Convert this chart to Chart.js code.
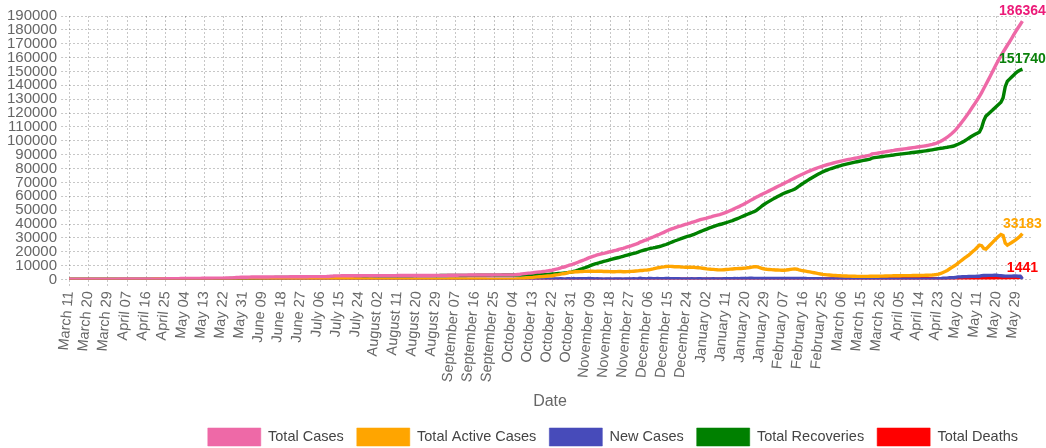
<!DOCTYPE html>
<html>
<head>
<meta charset="utf-8">
<title>COVID-19 cases</title>
<script src="https://cdn.jsdelivr.net/npm/chart.js@4.4.0/dist/chart.umd.min.js"></script>
<style>
  html, body { margin: 0; padding: 0; background: #fff; }
  .chart-box { width: 1046px; height: 448px; }
</style>
</head>
<body>
<div class="chart-box"><canvas id="casesChart" width="1046" height="448"></canvas></div>
<script>
// Dates (one label per reported day, a few days are missing in the source)
const months = ['January', 'February', 'March', 'April', 'May', 'June', 'July', 'August', 'September', 'October', 'November', 'December'];
const firstDate = '2020-03-11';
const lastDate = '2021-06-05';
const missingDates = ['2021-03-20', '2021-03-21', '2021-04-02'];

// Series values, one per day from March 11 2020 to June 1 2021
const totalCases = [
  1,2,3,6,10,18,28,42,51,66,73,78,87,97,102,106,106,113,117,122,142,
  146,151,159,166,176,178,185,189,190,197,199,210,217,218,233,238,244,254,271,304,310,330,368,420,460,523,588,619,649,665,
  690,705,718,751,771,797,824,835,847,863,869,889,915,925,935,960,981,992,1027,1028,1045,1055,1068,1089,1141,1182,1319,1469,1558,1620,1633,
  1643,1683,1749,1797,1801,1814,1835,1857,1859,1869,1877,1880,1889,1905,1924,1947,1950,1950,1950,1951,1953,1991,2001,2014,2033,2037,2039,2047,2054,2066,
  2074,2076,2077,2077,2081,2088,2094,2112,2151,2236,2454,2511,2617,2646,2665,2687,2704,2724,2730,2737,2742,2753,2768,2772,2781,2805,2810,2814,2815,2815,2815,
  2815,2818,2823,2828,2834,2834,2839,2844,2853,2858,2867,2869,2879,2880,2882,2886,2886,2891,2903,2903,2909,2919,2923,2929,2947,2953,2966,2976,2983,3002,3024,
  3030,3042,3049,3100,3111,3121,3123,3140,3166,3175,3195,3204,3233,3240,3252,3271,3275,3280,3287,3295,3301,3308,3313,3324,3331,3339,3344,3350,3354,3380,
  3391,3396,3402,3402,3513,3640,3800,4038,4252,4459,4628,4752,4930,5170,5354,5475,5625,5811,6028,6287,6513,6700,7153,7521,7872,8413,8870,9205,9791,10424,10663,
  11360,11835,12444,13087,13671,14270,14919,15629,16185,16715,17191,17722,18192,18583,18888,19287,19674,20075,20402,20841,21280,21771,22171,22508,22967,23469,23959,24434,24988,25484,
  26100,26980,27560,28200,28610,29350,30080,30650,31330,32040,32670,33350,34010,34790,35520,36140,36690,37220,37800,38330,38770,39250,39700,40120,40600,41150,41640,42070,42620,43140,43560,
  43960,44340,44790,45210,45730,46150,46510,46860,47270,47840,48420,49100,49750,50420,51190,51890,52580,53330,54120,54950,55810,56700,57600,58440,59270,60120,60920,61650,62390,63140,63930,
  64710,65500,66260,67020,67780,68550,69320,70100,70880,71700,72490,73300,74100,74850,75560,76290,77010,77700,78360,79000,79620,80200,80760,81300,81810,82300,82760,83200,
  83620,84020,84420,84810,85190,85560,85900,86230,86550,86870,87170,87470,87770,88070,88380,88690,89000,89300,89620,90560,90780,91000,91250,91520,91800,92060,92300,92550,92820,
  93080,93380,93560,93750,93970,94190,94400,94620,94840,95060,95290,95520,95740,95960,96200,96470,96780,97110,97470,97900,98380,99000,99690,100620,101600,102600,103880,105150,106480,
  108100,110000,111900,113900,116000,118100,120300,122600,124900,127200,129600,132000,134800,137700,140600,143600,146600,149600,152700,155800,158600,161300,163900,166400,168900,171400,173900,176500,179100,181500,183900,
  186364
];
const activeCases = [
  1,2,3,6,10,18,28,42,51,65,72,77,85,94,99,103,99,103,105,106,123,
  122,123,127,131,136,134,137,139,134,136,136,144,147,147,158,154,151,153,166,197,202,216,251,297,333,390,455,484,506,519,
  529,526,521,549,559,573,583,586,578,586,564,531,497,493,478,456,452,444,449,427,436,424,415,395,421,441,557,691,757,799,800,
  796,821,858,887,856,822,797,791,732,690,651,582,531,521,489,483,471,458,448,438,414,438,430,423,418,412,404,375,364,328,
  316,193,162,152,139,131,116,121,159,244,462,518,619,640,646,642,637,638,608,598,544,467,422,372,345,303,262,222,187,166,148,
  135,124,113,107,107,96,96,94,94,95,100,93,97,92,91,94,90,91,102,99,98,100,99,100,116,117,127,127,129,141,148,
  148,152,154,200,203,206,200,207,221,215,225,225,241,229,224,226,211,193,183,175,163,157,150,149,140,136,130,124,117,132,
  134,129,129,124,229,345,492,719,922,1115,1270,1383,1550,1759,1919,2003,2106,2231,2365,2514,2619,2688,3089,3326,3526,3917,4213,4386,4792,5235,5324,
  5480,5590,5660,5710,5830,5900,5960,6080,5990,5940,5880,5950,6010,5930,5780,5800,5760,5700,5590,5620,5690,5820,5780,5640,5660,5720,5800,5860,6010,6120,
  6230,6470,6520,6780,6810,7020,7350,7680,8060,8430,8700,8960,9120,9380,9510,9460,9390,9250,9310,9270,9080,8990,8910,8840,8870,8960,8850,8640,8520,8390,8170,
  7960,7720,7540,7410,7330,7180,7040,6950,6980,7090,7210,7350,7480,7620,7790,7860,7920,8010,8120,8240,8470,8690,8950,9210,9280,8910,8480,7950,7620,7410,7280,
  7150,7010,6920,6830,6760,6700,6720,6850,7080,7320,7540,7700,7450,7020,6650,6320,6050,5760,5480,5180,4880,4570,4280,3990,3720,3540,3380,3240,
  3110,3000,2900,2800,2720,2650,2600,2560,2500,2440,2390,2350,2310,2280,2260,2270,2290,2310,2340,2400,2380,2390,2420,2450,2500,2540,2580,2620,2660,
  2700,2740,2760,2780,2800,2810,2820,2840,2860,2880,2900,2930,2960,2990,3020,3060,3120,3200,3300,3450,3650,3950,4410,5130,5820,6580,7570,8550,9560,
  10526,11820,13010,14198,15384,16470,17655,18940,20326,21711,23295,24878,24460,22340,21920,23499,25077,26654,28230,29805,31179,32452,31824,26295,24765,25730,26694,27755,28810,29960,31410,
  33183
];
const newCases = [
  1,1,1,3,4,8,10,14,9,15,7,5,9,10,5,4,0,7,4,5,20,
  4,5,8,7,10,2,7,4,1,7,2,11,7,1,15,5,6,10,17,33,6,20,38,52,40,63,65,31,30,16,
  25,15,13,33,20,26,27,11,12,16,6,20,26,10,10,25,21,11,35,1,17,10,13,21,52,41,137,150,89,62,13,
  10,40,66,48,4,13,21,22,2,10,8,3,9,16,19,23,3,0,0,1,2,38,10,13,19,4,2,8,7,12,
  8,2,1,0,4,7,6,18,39,85,218,57,106,29,19,22,17,20,6,7,5,11,15,4,9,24,5,4,1,0,0,
  0,3,5,5,6,0,5,5,9,5,9,2,10,1,2,4,0,5,12,0,6,10,4,6,18,6,13,10,7,19,22,
  6,12,7,51,11,10,2,17,26,9,20,9,29,7,12,19,4,5,7,8,6,7,5,11,7,8,5,6,4,26,
  11,5,6,0,111,127,160,238,214,207,169,124,178,240,184,121,150,186,217,259,226,187,453,368,351,541,457,335,586,633,239,
  697,475,609,643,584,599,649,710,556,530,476,531,470,391,305,399,387,401,327,439,439,491,400,337,459,502,490,475,554,496,
  616,880,580,640,410,740,730,570,680,710,630,680,660,780,730,620,550,530,580,530,440,480,450,420,480,550,490,430,550,520,420,
  400,380,450,420,520,420,360,350,410,570,580,680,650,670,770,700,690,750,790,830,860,890,900,840,830,850,800,730,740,750,790,
  780,790,760,760,760,770,770,780,780,820,790,810,800,750,710,730,720,690,660,640,620,580,560,540,510,490,460,440,
  420,400,400,390,380,370,340,330,320,320,300,300,300,300,310,310,310,300,320,310,220,220,250,270,280,260,240,250,270,
  260,270,180,190,220,220,210,220,220,220,230,230,220,220,240,270,310,330,360,430,480,620,690,930,980,1000,1280,1270,1330,
  1620,1900,1900,2000,2100,2100,2200,2300,2300,2300,2400,2400,2800,2900,2900,3000,3000,3000,3100,3100,2800,2700,2600,2500,2500,2500,2500,2600,2600,2400,2400,
  300
];
const totalRecoveries = [
  0,0,0,0,0,0,0,0,0,1,1,1,2,3,3,3,7,9,11,14,17,
  21,24,27,30,35,38,42,44,49,54,56,59,63,64,68,77,86,94,98,100,101,107,110,116,120,126,126,128,136,139,
  154,172,189,194,203,215,232,240,260,268,296,349,409,423,448,495,520,539,569,592,600,622,644,685,711,732,752,768,791,811,823,
  836,851,880,899,934,981,1027,1055,1116,1168,1215,1287,1347,1373,1424,1453,1468,1481,1491,1502,1528,1542,1560,1580,1604,1614,1624,1661,1679,1727,
  1747,1872,1904,1914,1931,1946,1967,1980,1981,1981,1981,1982,1987,1995,2008,2034,2056,2075,2111,2128,2187,2275,2335,2389,2425,2491,2537,2581,2617,2638,2656,
  2669,2683,2699,2710,2716,2727,2732,2739,2748,2752,2756,2765,2771,2777,2780,2781,2785,2789,2790,2793,2799,2807,2812,2817,2819,2824,2827,2837,2842,2849,2864,
  2870,2878,2883,2888,2896,2903,2911,2921,2933,2948,2958,2967,2980,2999,3016,3032,3051,3074,3091,3107,3125,3138,3150,3162,3178,3190,3201,3213,3224,3235,
  3244,3254,3260,3265,3271,3282,3295,3306,3317,3331,3345,3356,3367,3398,3422,3459,3506,3567,3650,3760,3880,3998,4050,4180,4330,4480,4640,4800,4980,5170,5320,
  5860,6224,6763,7353,7812,8338,8925,9514,10158,10735,11268,11727,12134,12603,13055,13431,13855,14314,14748,15155,15520,15875,16310,16785,17220,17659,18065,18477,18875,19257,
  19759,20394,20922,21296,21669,22195,22592,22828,23126,23462,23820,24238,24736,25254,25851,26520,27137,27804,28319,28883,29512,30079,30605,31089,31536,31994,32592,33231,33900,34545,35179,
  35785,36402,37029,37576,38173,38740,39236,39673,40050,40506,40963,41500,42018,42545,43141,43767,44394,45050,45727,46434,47061,47728,48365,48941,49697,50913,52139,53395,54462,55419,56336,
  57243,58168,59012,59856,60680,61505,62249,62893,63437,64011,64575,65218,66261,67434,68508,69562,70546,71521,72456,73391,74306,75191,76036,76862,77638,78304,78920,79496,
  80042,80548,81044,81530,81986,82422,82808,83174,83550,83926,84272,84608,84944,85270,85596,85892,86178,86454,86740,87612,87849,88056,88273,88510,88737,88954,89151,89358,89585,
  89802,90056,90213,90380,90577,90784,90981,91178,91375,91572,91779,91976,92163,92350,92557,92784,93031,93278,93535,93812,94089,94406,94633,94840,95126,95363,95650,95936,96252,
  96900,97500,98200,99000,99900,100900,101900,102900,103800,104700,105500,106300,109500,114500,117800,119200,120600,122000,123500,125000,126400,127800,131000,139000,143000,144500,146000,147500,149000,150200,151100,
  151740
];
const totalDeaths = [
  0,0,0,0,0,0,0,0,0,0,0,0,0,0,0,0,0,1,1,2,2,
  3,4,5,5,5,6,6,6,7,7,7,7,7,7,7,7,7,7,7,7,7,7,7,7,7,7,7,7,7,7,
  7,7,8,8,9,9,9,9,9,9,9,9,9,9,9,9,9,9,9,9,9,9,9,9,9,9,10,10,10,10,10,
  11,11,11,11,11,11,11,11,11,11,11,11,11,11,11,11,11,11,11,11,11,11,11,11,11,11,11,11,11,11,
  11,11,11,11,11,11,11,11,11,11,11,11,11,11,11,11,11,11,11,11,11,11,11,11,11,11,11,11,11,11,11,
  11,11,11,11,11,11,11,11,11,11,11,11,11,11,11,11,11,11,11,11,12,12,12,12,12,12,12,12,12,12,12,
  12,12,12,12,12,12,12,12,12,12,12,12,12,12,12,13,13,13,13,13,13,13,13,13,13,13,13,13,13,13,
  13,13,13,13,13,13,13,13,13,13,13,13,13,13,13,13,13,13,13,13,14,14,14,15,16,16,17,19,19,19,19,
  20,21,21,24,29,32,34,35,37,40,43,45,48,50,53,56,59,61,64,66,70,76,81,83,87,90,94,97,103,107,
  111,116,118,124,131,135,138,142,144,148,150,152,154,156,159,160,163,166,171,177,178,181,185,191,194,196,198,199,200,205,211,
  215,218,221,224,227,230,234,237,240,244,247,250,252,255,259,263,266,270,273,276,279,282,285,289,293,297,301,305,308,311,314,
  317,322,328,334,340,345,351,357,363,369,375,382,389,396,402,408,414,419,424,429,434,439,444,448,452,456,460,464,
  468,472,476,480,484,488,492,496,500,504,508,512,516,520,524,528,532,536,540,548,551,554,557,560,563,566,569,572,575,
  578,584,587,590,593,596,599,602,605,608,611,614,617,620,623,626,629,632,635,638,641,644,647,650,654,657,660,664,668,
  674,680,690,702,716,730,745,760,774,789,805,822,840,860,880,901,923,946,970,995,1021,1048,1076,1105,1135,1170,1206,1245,1290,1340,1390,
  1441
];

// Build the category labels ("March 11", "April 07", ...)
const dateLabels = [];
const endDate = new Date(lastDate + 'T00:00:00Z');
for (let d = new Date(firstDate + 'T00:00:00Z'); d <= endDate; d.setUTCDate(d.getUTCDate() + 1)) {
    const iso = d.toISOString().slice(0, 10);
    if (missingDates.includes(iso)) continue;
    dateLabels.push(months[d.getUTCMonth()] + ' ' + String(d.getUTCDate()).padStart(2, '0'));
}

const fontFamily = '"Liberation Sans", Arial, Helvetica, sans-serif';

function lineSet(label, data, color, endLabelColor) {
    return {
        label: label,
        data: data,
        borderColor: color,
        backgroundColor: color,
        borderWidth: 3.4,
        pointRadius: 0,
        pointHoverRadius: 0,
        tension: 0,
        fill: false,
        endLabelColor: endLabelColor
    };
}

// Writes the latest value above the end of a line
const lastValueLabels = {
    id: 'lastValueLabels',
    afterDatasetsDraw(chart) {
        const ctx = chart.ctx;
        ctx.save();
        ctx.font = 'bold 14px ' + fontFamily;
        ctx.textAlign = 'center';
        ctx.textBaseline = 'alphabetic';
        chart.data.datasets.forEach((ds, i) => {
            if (!ds.endLabelColor) return;
            const pts = chart.getDatasetMeta(i).data;
            const last = pts[pts.length - 1];
            ctx.fillStyle = ds.endLabelColor;
            ctx.fillText(String(ds.data[ds.data.length - 1]), last.x, last.y - 6);
        });
        ctx.restore();
    }
};

// Legend sits close to the bottom edge
const legendTight = {
    id: 'legendTight',
    beforeLayout(chart) {
        const lg = chart.legend;
        if (lg && !lg._tight) {
            const fit = lg.fit;
            lg.fit = function () { fit.call(this); this.height -= 8; };
            lg._tight = true;
        }
    }
};

const gridColor = 'rgba(0,0,0,0.22)';

const ctx = document.getElementById('casesChart').getContext('2d');
new Chart(ctx, {
    type: 'line',
    data: {
        labels: dateLabels,
        datasets: [
            lineSet('Total Cases', totalCases, '#EE69A7', '#EC1A78'),
            lineSet('Total Active Cases', activeCases, '#FFA500', '#FFA500'),
            lineSet('New Cases', newCases, '#474BBA', null),
            lineSet('Total Recoveries', totalRecoveries, '#008000', '#0A800A'),
            lineSet('Total Deaths', totalDeaths, '#FF0000', '#FF0000')
        ]
    },
    options: {
        responsive: false,
        animation: false,
        layout: { padding: { left: 3, right: 15, top: 16, bottom: 0 } },
        plugins: {
            tooltip: { enabled: false },
            legend: {
                position: 'bottom',
                align: 'end',
                labels: {
                    boxWidth: 53,
                    boxHeight: 18,
                    padding: 13,
                    color: '#444',
                    font: { family: fontFamily, size: 14.5 },
                    generateLabels(chart) {
                        return Chart.defaults.plugins.legend.labels.generateLabels(chart).map(item => {
                            item.lineWidth = 1;
                            item.strokeStyle = item.fillStyle + '88';
                            return item;
                        });
                    }
                }
            }
        },
        scales: {
            x: {
                grid: { color: gridColor, tickLength: 8, tickBorderDash: [2, 2], tickColor: gridColor },
                border: { display: false, dash: [2, 2] },
                ticks: {
                    autoSkip: true,
                    autoSkipPadding: 0,
                    maxTicksLimit: 50,
                    minRotation: 85,
                    maxRotation: 85,
                    padding: 3,
                    color: '#666',
                    font: { family: fontFamily, size: 14.5 }
                },
                title: {
                    display: true,
                    text: 'Date',
                    color: '#666',
                    padding: { top: 6, bottom: 4 },
                    font: { family: fontFamily, size: 16 }
                }
            },
            y: {
                min: 0,
                max: 190000,
                grid: { color: gridColor, tickLength: 8, tickBorderDash: [2, 2], tickColor: gridColor },
                border: { display: false, dash: [2, 2] },
                ticks: {
                    stepSize: 10000,
                    autoSkip: false,
                    padding: 4,
                    color: '#666',
                    font: { family: fontFamily, size: 15 },
                    callback: value => String(value)
                }
            }
        }
    },
    plugins: [lastValueLabels, legendTight]
});
</script>
</body>
</html>
